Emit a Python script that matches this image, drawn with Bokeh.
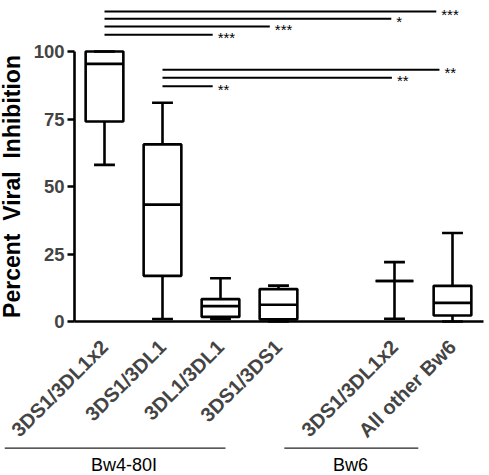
from math import pi
from bokeh.plotting import figure
from bokeh.models import Range1d, FixedTicker
from bokeh.core.properties import value
from bokeh.embed import file_html
from bokeh.resources import INLINE

# ---------------- data ----------------
categories = ["3DS1/3DL1x2", "3DS1/3DL1", "3DL1/3DL1", "3DS1/3DS1", "3DS1/3DL1x2", "All other Bw6"]
groups = ["Bw4-80I", "Bw4-80I", "Bw4-80I", "Bw4-80I", "Bw6", "Bw6"]
whisker_low = [58.0, 0.9, 0.9, 0.0, 1.0, 0.0]
q1 = [74.1, 16.9, 1.7, 0.8, 15.0, 2.2]
median = [95.4, 43.3, 5.7, 6.2, 15.0, 6.9]
q3 = [100.0, 65.6, 8.3, 12.0, 15.0, 13.2]
whisker_high = [100.0, 81.0, 16.0, 13.3, 22.0, 32.8]
y_ticks = [0, 25, 50, 75, 100]
y_label = "Percent \u00a0Viral \u00a0Inhibition"

# significance comparisons: start category index, end (x), level, label
sig_from = [0, 0, 0, 0, 1, 1, 1]
sig_end = [5.72, 4.945, 2.85, 1.865, 5.775, 4.955, 1.865]
sig_level = [114.8, 112.1, 109.3, 106.2, 93.2, 90.3, 87.1]
sig_text = ["***", "*", "***", "***", "**", "**", "**"]

group_names = ["Bw4-80I", "Bw6"]

# ---------------- layout ----------------
xs = []
gap = 0
prev = None
for i, g in enumerate(groups):
    if prev is not None and g != prev:
        gap += 1
    xs.append(i + gap)
    prev = g

W, H = 489, 475
PXU = 58.0            # px per category unit
X0PX = 104            # px of first category
PYU = 2.7             # px per percent
Y0PX = 321            # px of y = 0
AX_L, AX_R = -0.517, 6.534   # extent of x axis line
BW = 0.65
CAP = 0.36
FONT = "Liberation Sans"
lw = 2.6

p = figure(width=W, height=H, output_backend="svg", toolbar_location=None,
           x_range=Range1d(-X0PX / PXU, (W - X0PX) / PXU),
           y_range=Range1d(-(H - Y0PX) / PYU, Y0PX / PYU),
           min_border_left=0, min_border_right=0, min_border_top=0, min_border_bottom=0)
p.outline_line_color = None
p.grid.visible = False

# boxes
p.quad(left=[x - BW / 2 for x in xs], right=[x + BW / 2 for x in xs], bottom=q1, top=q3,
       fill_color=None, line_color="black", line_width=lw)
p.segment(x0=[x - BW / 2 for x in xs], x1=[x + BW / 2 for x in xs], y0=median, y1=median,
          line_color="black", line_width=lw)
# whiskers
p.segment(x0=xs, x1=xs, y0=q3, y1=whisker_high, line_color="black", line_width=lw)
p.segment(x0=xs, x1=xs, y0=whisker_low, y1=q1, line_color="black", line_width=lw)
p.segment(x0=[x - CAP / 2 for x in xs], x1=[x + CAP / 2 for x in xs], y0=whisker_high, y1=whisker_high,
          line_color="black", line_width=lw)
p.segment(x0=[x - CAP / 2 for x in xs], x1=[x + CAP / 2 for x in xs], y0=whisker_low, y1=whisker_low,
          line_color="black", line_width=lw)

# significance bars
sx0 = [xs[i] for i in sig_from]
p.segment(x0=sx0, x1=sig_end, y0=sig_level, y1=sig_level, line_color="black", line_width=2)
p.text(x=[e + 5 / PXU for e in sig_end], y=sig_level, text=sig_text,
       text_font=value(FONT), text_font_size="15px", text_baseline="middle", text_align="left",
       y_offset=3, text_color="black")

# y axis (fixed inside the frame)
p.yaxis.fixed_location = AX_L
p.yaxis.ticker = FixedTicker(ticks=y_ticks)
p.yaxis.bounds = (0, 100)
p.yaxis.axis_line_width = lw
p.yaxis.major_tick_line_width = lw
p.yaxis.major_tick_out = 7
p.yaxis.major_tick_in = 0
p.yaxis.minor_tick_line_color = None
p.yaxis.major_label_standoff = 3
p.yaxis.major_label_text_font = FONT
p.yaxis.major_label_text_font_style = "bold"
p.yaxis.major_label_text_font_size = "18.5px"
p.text(x=[AX_L - (74 - 11) / PXU], y=[50], text=[y_label], angle=pi / 2,
       text_align="center", text_baseline="middle", text_font=value(FONT),
       text_font_style="bold", text_font_size="23px", text_color="black")

# x axis (fixed at y = 0)
p.xaxis.fixed_location = 0
p.xaxis.bounds = (AX_L, AX_R)
p.xaxis.ticker = FixedTicker(ticks=xs)
p.xaxis.major_label_overrides = {x: c for x, c in zip(xs, categories)}
p.xaxis.axis_line_width = lw
p.xaxis.major_tick_out = 0
p.xaxis.major_tick_in = 0
p.xaxis.minor_tick_line_color = None
p.xaxis.major_label_orientation = pi / 4
p.xaxis.major_label_standoff = 22
p.xaxis.major_label_text_font = FONT
p.xaxis.major_label_text_font_style = "bold"
p.xaxis.major_label_text_font_size = "20px"

# group underlines and labels
group_start = [-1.72, 3.10]
group_end = [2.086, 5.41]
group_label_x = [0.336, 4.241]
gy_line = -(447.7 - Y0PX) / PYU
gy_text = -(464 - Y0PX) / PYU
p.segment(x0=group_start, x1=group_end, y0=[gy_line] * 2, y1=[gy_line] * 2,
          line_color="#222222", line_width=1.2)
p.text(x=group_label_x, y=[gy_text] * 2, text=group_names, text_align="center",
       text_baseline="middle", text_font=value(FONT), text_font_size="18px", text_color="black")

open("out.html", "w").write(file_html(p, INLINE))
